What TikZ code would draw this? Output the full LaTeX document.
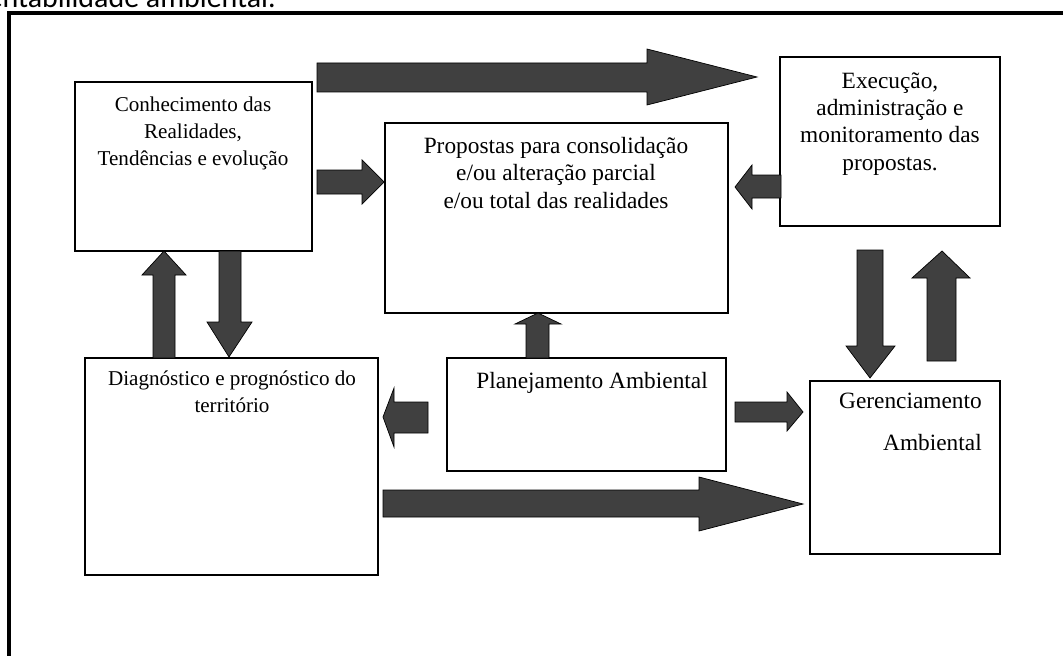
\documentclass[tikz,border=0pt]{standalone}
\usepackage{fontspec}
\setmainfont{Liberation Serif}
\newfontfamily\carlito{Carlito}
\usetikzlibrary{fit}
\definecolor{arrowgray}{HTML}{404040}
\begin{document}
\begin{tikzpicture}[x=0.025cm,y=-0.025cm,
  box/.style={draw=black, line width=1.1pt, inner sep=0pt, fill=white},
  blk/.style={fill=arrowgray, draw=black, line width=0.5pt, line join=miter},
  txt/.style={inner sep=0pt, align=center, text=black},
  bigfont/.style={font=\fontsize{16.6}{19.5}\selectfont},
  smallfont/.style={font=\fontsize{15}{19.1}\selectfont}]
\useasboundingbox (0,0) rectangle (1063,656);
\clip (0,0) rectangle (1063,656);
\fill[white] (0,0) rectangle (1063,656);
% cut-off heading
\node[anchor=base east, inner sep=0pt, font=\carlito\fontsize{21.3}{25}\selectfont] (hdr) at (276,8) {sustentabilidade ambiental.};
% outer frame
\draw[line width=2.6pt] (9,680) -- (9,13) -- (1080,13);
% boxes
\node[box, fit={(75,82) (312,251)}] (conh) {};
\node[box, fit={(385,123) (728,313)}] (prop) {};
\node[box, fit={(780,57) (1000,226)}] (exec) {};
\node[box, fit={(85,358) (378,575)}] (diag) {};
\node[box, fit={(447,358) (726,471)}] (plan) {};
\node[box, fit={(810,381) (1000,554)}] (ger) {};
% texts
\node[txt, smallfont, anchor=north] (tconh) at (193,97) {Conhecimento das\\Realidades,\\Tendências e evolução};
\node[txt, bigfont, anchor=north] (tprop) at (556,137) {Propostas para consolidação\\e/ou alteração parcial\\e/ou total das realidades};
\node[txt, bigfont, anchor=north] (texec) at (890,72) {Execução,\\administração e\\monitoramento das\\propostas.};
\node[txt, smallfont, anchor=north] (tdiag) at (232,371) {Diagnóstico e prognóstico do\\território};
\node[txt, bigfont, anchor=north] (tplan) at (592,372) {Planejamento Ambiental};
\node[txt, bigfont, anchor=north east, align=right, font=\fontsize{16.6}{30}\selectfont] (tger) at (982,393) {Gerenciamento\\Ambiental};
% block arrows
% conh -> exec (top big)
\path[blk] (317,63) -- (647,63) -- (647,49) -- (757,77) -- (647,105) -- (647,92) -- (317,92) -- cycle;
% conh -> prop
\path[blk] (317,170) -- (362,170) -- (362,160) -- (384,182) -- (362,204) -- (362,194) -- (317,194) -- cycle;
% exec -> prop
\path[blk] (781,175) -- (752,175) -- (752,165) -- (735,187) -- (752,209) -- (752,198) -- (781,198) -- cycle;
% diag -> conh (up)
\path[blk] (153,358) -- (153,275) -- (142,275) -- (164,251) -- (186,275) -- (175,275) -- (175,358) -- cycle;
% conh -> diag (down)
\path[blk] (219,251) -- (219,322) -- (207,322) -- (229,357) -- (252,322) -- (241,322) -- (241,251) -- cycle;
% plan -> prop (up)
\path[blk] (526,358) -- (526,324) -- (515,324) -- (538,313) -- (561,324) -- (549,324) -- (549,358) -- cycle;
% plan -> diag (left)
\path[blk] (428,402) -- (394,402) -- (394,388) -- (383,417) -- (394,447) -- (394,433) -- (428,433) -- cycle;
% plan -> ger (right)
\path[blk] (735,402) -- (787,402) -- (787,392) -- (803,412) -- (787,431) -- (787,422) -- (735,422) -- cycle;
% diag -> ger (big bottom)
\path[blk] (383,490) -- (699,490) -- (699,477) -- (803,504) -- (699,531) -- (699,517) -- (383,517) -- cycle;
% exec -> ger (down)
\path[blk] (857,250) -- (857,346) -- (846,346) -- (870,378) -- (895,346) -- (883,346) -- (883,250) -- cycle;
% ger -> exec (up)
\path[blk] (927,361) -- (927,278) -- (912,278) -- (942,251) -- (970,278) -- (956,278) -- (956,361) -- cycle;
\end{tikzpicture}
\end{document}
